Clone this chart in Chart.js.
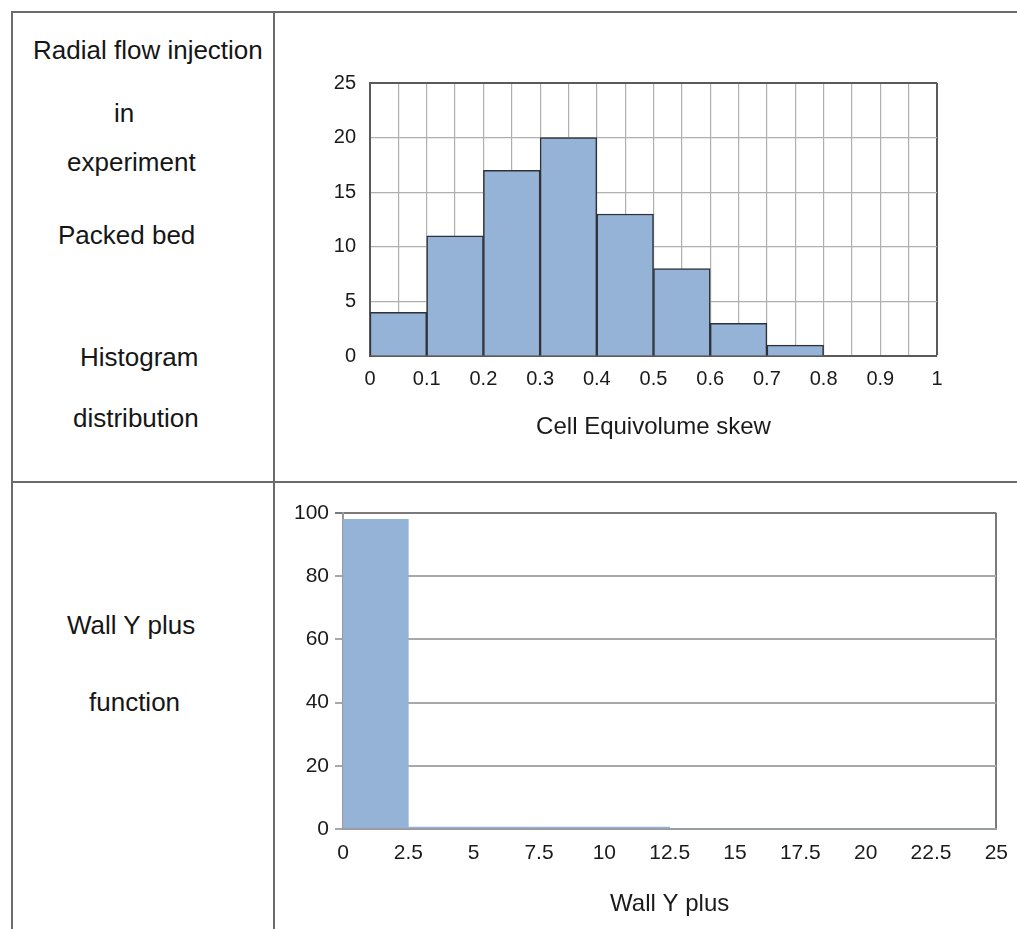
<!DOCTYPE html>
<html>
<head>
<meta charset="utf-8">
<script src="https://cdn.jsdelivr.net/npm/chart.js@4.4.1/dist/chart.umd.min.js"></script>
<style>
    body { margin: 0; background: #fff; width: 1017px; height: 929px; overflow: hidden; position: relative; font-family: "Liberation Sans", Arial, sans-serif; }
    .line { position: absolute; background: #6b6b6b; }
    .label { position: absolute; font-size: 26px; color: #161616; white-space: nowrap; line-height: 1; }
    canvas { position: absolute; }
</style>
</head>
<body>
<!-- table frame -->
<div class="line" style="left:11px; top:11px; width:1006px; height:2px;"></div>
<div class="line" style="left:11px; top:481px; width:1006px; height:2px;"></div>
<div class="line" style="left:11px; top:11px; width:2px; height:918px;"></div>
<div class="line" style="left:273px; top:11px; width:2px; height:918px;"></div>

<div class="label" style="left:33px; top:37px;">Radial flow injection</div>
<div class="label" style="left:114px; top:100px;">in</div>
<div class="label" style="left:67px; top:149px;">experiment</div>
<div class="label" style="left:58px; top:222px;">Packed bed</div>
<div class="label" style="left:80px; top:344px;">Histogram</div>
<div class="label" style="left:73px; top:405px;">distribution</div>
<div class="label" style="left:67px; top:612px;">Wall Y plus</div>
<div class="label" style="left:89px; top:689px;">function</div>

<canvas id="skewChart" width="700" height="393" style="left:290px; top:57px;"></canvas>
<canvas id="yplusChart" width="740" height="439" style="left:280px; top:490px;"></canvas>

<script>
// Cell equivolume skew histogram
const skewBinStart = [0, 0.1, 0.2, 0.3, 0.4, 0.5, 0.6, 0.7, 0.8, 0.9];
const skewCounts = [4, 11, 17, 20, 13, 8, 3, 1, 0, 0];
const skewBinWidth = 0.1;
const skewYTicks = [0, 5, 10, 15, 20, 25];

// Wall Y plus histogram
const yplusBinStart = [0, 2.5, 5, 7.5, 10, 12.5, 15, 17.5, 20, 22.5];
const yplusCounts = [98, 0.6, 0.6, 0.6, 0.6, 0, 0, 0, 0, 0];
const yplusBinWidth = 2.5;
const yplusYTicks = [0, 20, 40, 60, 80, 100];

Chart.defaults.font.family = '"Liberation Sans", Arial, sans-serif';
Chart.defaults.color = '#1a1a1a';
Chart.defaults.animation = false;

const skewData = skewBinStart.map((s, i) => ({ x: s + skewBinWidth / 2, y: skewCounts[i] }));
const yplusData = yplusBinStart.map((s, i) => ({ x: s + yplusBinWidth / 2, y: yplusCounts[i] }));

const isEdge = (ctx, v) => ctx.tick && Math.abs(ctx.tick.value - v) < 1e-6;

new Chart(document.getElementById('skewChart'), {
    type: 'bar',
    data: {
        datasets: [{
            data: skewData,
            xAxisID: 'bins',
            backgroundColor: '#95b3d7',
            borderColor: '#2e3238',
            borderWidth: 1.5,
            barPercentage: 1,
            categoryPercentage: 1
        }]
    },
    options: {
        responsive: false,
        devicePixelRatio: 1,
        layout: { padding: { top: 17, right: 53, left: 0, bottom: 0 } },
        plugins: { legend: { display: false }, tooltip: { enabled: false } },
        scales: {
            // hidden axis carrying the bars, one tick per bin
            bins: {
                type: 'linear',
                display: false,
                offset: false,
                min: 0,
                max: 1,
                ticks: { stepSize: skewBinWidth }
            },
            x: {
                type: 'linear',
                offset: false,
                min: 0,
                max: 1,
                grid: {
                    offset: false,
                    drawTicks: false,
                    color: ctx => isEdge(ctx, 1) ? '#5a5a5a' : '#b0b0b0',
                    lineWidth: ctx => isEdge(ctx, 1) ? 2 : 1.2
                },
                border: { color: '#5a5a5a', width: 2 },
                ticks: {
                    stepSize: 0.05,
                    autoSkip: false,
                    maxRotation: 0,
                    padding: 11,
                    font: { size: 20 },
                    callback: function(value) {
                        const v = Math.round(value * 100);
                        if (v % 10 !== 0) return '';
                        return String(v / 100);
                    }
                },
                title: {
                    display: true,
                    text: 'Cell Equivolume skew',
                    font: { size: 24 },
                    padding: { top: 0, bottom: 8 }
                },
                afterFit: scale => { scale.height = 94; }
            },
            y: {
                min: 0,
                max: 25,
                grid: {
                    drawTicks: false,
                    color: ctx => isEdge(ctx, 25) ? '#5a5a5a' : '#b0b0b0',
                    lineWidth: ctx => isEdge(ctx, 25) ? 2 : 1.2
                },
                border: { color: '#5a5a5a', width: 2 },
                afterBuildTicks: scale => { scale.ticks = skewYTicks.map(v => ({ value: v })); },
                ticks: { padding: 14, font: { size: 20 } },
                afterFit: scale => { scale.width = 80; }
            }
        }
    }
});

new Chart(document.getElementById('yplusChart'), {
    type: 'bar',
    data: {
        datasets: [{
            data: yplusData,
            backgroundColor: '#95b3d7',
            borderWidth: 0,
            barPercentage: 1,
            categoryPercentage: 1
        }]
    },
    options: {
        responsive: false,
        devicePixelRatio: 1,
        layout: { padding: { top: 23, right: 0, left: 0, bottom: 0 } },
        plugins: { legend: { display: false }, tooltip: { enabled: false } },
        scales: {
            x: {
                type: 'linear',
                offset: false,
                min: 0,
                max: 25,
                grid: {
                    offset: false,
                    drawTicks: false,
                    color: ctx => isEdge(ctx, 25) ? '#7a7a7a' : 'rgba(0,0,0,0)',
                    lineWidth: 2
                },
                border: { color: '#9a9a9a', width: 2 },
                ticks: {
                    stepSize: 2.5,
                    autoSkip: false,
                    maxRotation: 0,
                    padding: 12,
                    font: { size: 21 }
                },
                title: {
                    display: true,
                    text: 'Wall Y plus',
                    font: { size: 24 },
                    padding: { top: 0, bottom: 10 }
                },
                afterFit: scale => { scale.height = 100; }
            },
            y: {
                min: 0,
                max: 100,
                grid: {
                    tickLength: 8,
                    color: ctx => isEdge(ctx, 100) ? '#7a7a7a' : '#a8a8a8',
                    lineWidth: 2
                },
                border: { color: '#9a9a9a', width: 2 },
                afterBuildTicks: scale => { scale.ticks = yplusYTicks.map(v => ({ value: v })); },
                ticks: { padding: 6, font: { size: 21 } },
                afterFit: scale => { scale.width = 63; }
            }
        }
    }
});
</script>
</body>
</html>
